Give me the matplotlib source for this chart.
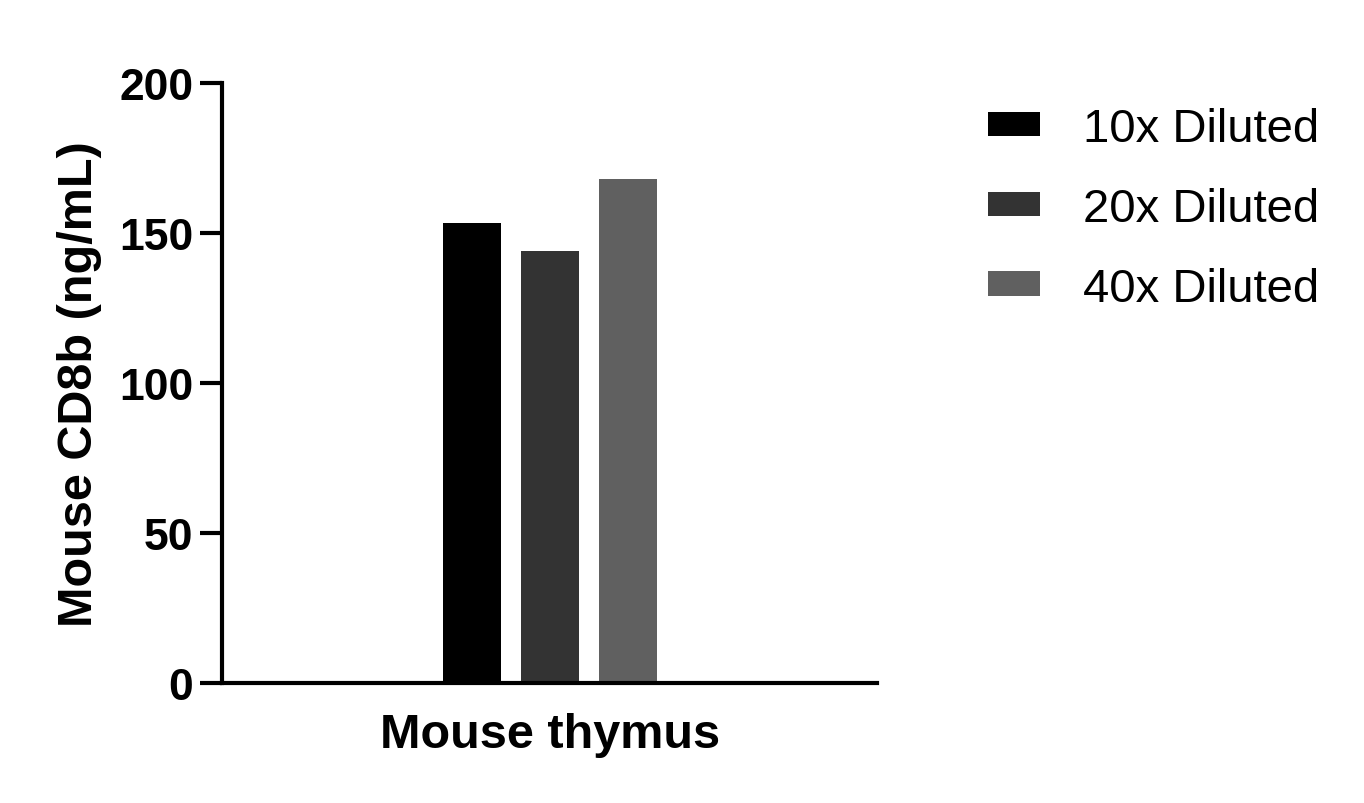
import numpy as np
import matplotlib.pyplot as plt
from matplotlib.patches import Patch

plt.rcParams['font.family'] = ['Liberation Sans', 'DejaVu Sans']

group = 'Mouse thymus'
series = ['10x Diluted', '20x Diluted', '40x Diluted']
values = [153.2, 143.8, 167.9]
colors = ['#000000', '#333333', '#606060']

fig = plt.figure(figsize=(13.64, 8.04), dpi=100)
ax = fig.add_axes([0.163, 0.149, 0.480, 0.747])

x = np.arange(len(series)) - 1
ax.bar(x, values, width=0.744, color=colors)

ax.set_xlim(-4.2, 4.2)
ax.set_ylim(0, 200)
ax.set_yticks([0, 50, 100, 150, 200])
ax.set_xticks([0])
ax.set_xticklabels([group])
ax.tick_params(axis='x', length=0, pad=21, labelsize=35)
ax.tick_params(axis='y', length=16, width=3, labelsize=32, pad=5)
for lab in ax.get_xticklabels() + ax.get_yticklabels():
    lab.set_fontweight('bold')

for s in ['top', 'right']:
    ax.spines[s].set_visible(False)
for s in ['left', 'bottom']:
    ax.spines[s].set_linewidth(3)

ax.set_ylabel('Mouse CD8b (ng/mL)', fontsize=35, fontweight='bold', labelpad=12)

handles = [Patch(facecolor=c, label=s) for c, s in zip(colors, series)]
fig.legend(handles=handles, loc='upper left', bbox_to_anchor=(0.7243, 0.866),
           frameon=False, fontsize=34, handlelength=1.1, handleheight=0.42,
           handletextpad=0.91, labelspacing=0.76, borderpad=0, borderaxespad=0)

fig.savefig('out.png', dpi=100)
